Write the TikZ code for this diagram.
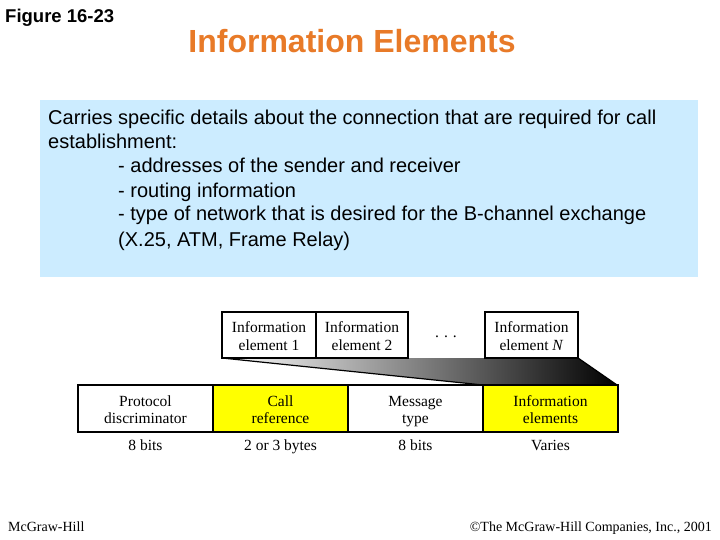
\documentclass[tikz,border=0pt]{standalone}
\usepackage{fontspec}
\setmainfont{Liberation Serif}
\newfontfamily\arialf{Liberation Sans}
\usetikzlibrary{positioning}
\definecolor{boxblue}{RGB}{204,236,255}
\definecolor{titleorange}{RGB}{232,122,40}
\definecolor{cellyellow}{RGB}{255,255,0}
\tikzset{
  body/.style={font=\arialf\fontsize{20}{20}\selectfont, anchor=base west, inner sep=0pt},
  ie/.style={draw=black, line width=1.6pt, fill=white, minimum height=46pt, inner sep=0pt},
  cell/.style={draw=black, line width=1.6pt, minimum height=47pt, minimum width=135pt, inner sep=0pt},
  celltext/.style={align=center, inner sep=0pt, font=\fontsize{15.5}{17.5}\selectfont},
  sz/.style={font=\fontsize{15.5}{16}\selectfont, inner sep=0pt, anchor=base},
  foot/.style={font=\fontsize{14}{14}\selectfont, inner sep=0pt, anchor=base}
}
\begin{document}
\begin{tikzpicture}[x=1pt,y=-1pt]
\useasboundingbox (0,0) rectangle (720,540);
% header
\node[font=\arialf\bfseries\fontsize{18.5}{19}\selectfont, anchor=base west, inner sep=0pt] (fig) at (5,23) {Figure 16-23};
\node[font=\arialf\bfseries\fontsize{32}{33}\selectfont, text=titleorange, anchor=base, inner sep=0pt] (title) at (352,53) {Information Elements};
% blue box
\fill[boxblue] (40,100) rectangle (698,277);
\node[body] (l1) at (48,125) {Carries specific details about the connection that are required for call};
\node[body] (l2) at (48,149) {establishment:};
\node[body] (l3) at (118,173) {- addresses of the sender and receiver};
\node[body] (l4) at (118,197) {- routing information};
\node[body] (l5) at (118,221) {- type of network that is desired for the B-channel exchange};
\node[body] (l6) at (118,246) {(X.25, ATM, Frame Relay)};
% gradient wedge
\shade[left color=white, right color=black] (222,358) -- (578,358) -- (617,385) -- (483,385) -- cycle;
\draw[line width=1.2pt] (222,358) -- (483,385);
\draw[line width=1.2pt] (578,358) -- (617,385);
% bottom row
\node[cell, fill=white] (pd) at (145.5,408.5) {};
\node[cell, fill=cellyellow] (cr) at (280.5,408.5) {};
\node[cell, fill=white] (mt) at (415.5,408.5) {};
\node[cell, fill=cellyellow] (iel) at (550.5,408.5) {};
\node[celltext] (pdt) at ([yshift=-3pt]pd.center) {\strut Protocol\\\strut discriminator};
\node[celltext] (crt) at ([yshift=-3pt]cr.center) {\strut Call\\\strut reference};
\node[celltext] (mtt) at ([yshift=-3pt]mt.center) {\strut Message\\\strut type};
\node[celltext] (ielt) at ([yshift=-3pt]iel.center) {\strut Information\\\strut elements};
\node[sz] (s1) at (145.5,450) {8 bits};
\node[sz] (s2) at (280.5,450) {2 or 3 bytes};
\node[sz] (s3) at (415.5,450) {8 bits};
\node[sz] (s4) at (550.5,450) {Varies};
% top element boxes
\node[ie, minimum width=94pt] (e1) at (269,335) {};
\node[ie, minimum width=92pt] (e2) at (362,335) {};
\node[ie, minimum width=93pt] (en) at (531.5,335) {};
\node[celltext] (e1t) at ([yshift=-3pt]e1.center) {\strut Information\\\strut element 1};
\node[celltext] (e2t) at ([yshift=-3pt]e2.center) {\strut Information\\\strut element 2};
\node[celltext] (ent) at ([yshift=-3pt]en.center) {\strut Information\\\strut element \textit{N}};
\node[sz] (dots) at (446,337) {.\hspace{5pt}.\hspace{5pt}.};
% footer
\node[foot, anchor=base west] (f1) at (8,531) {McGraw-Hill};
\node[foot, anchor=base east] (f2) at (712,531) {\textcopyright The McGraw-Hill Companies, Inc., 2001};
\end{tikzpicture}
\end{document}
